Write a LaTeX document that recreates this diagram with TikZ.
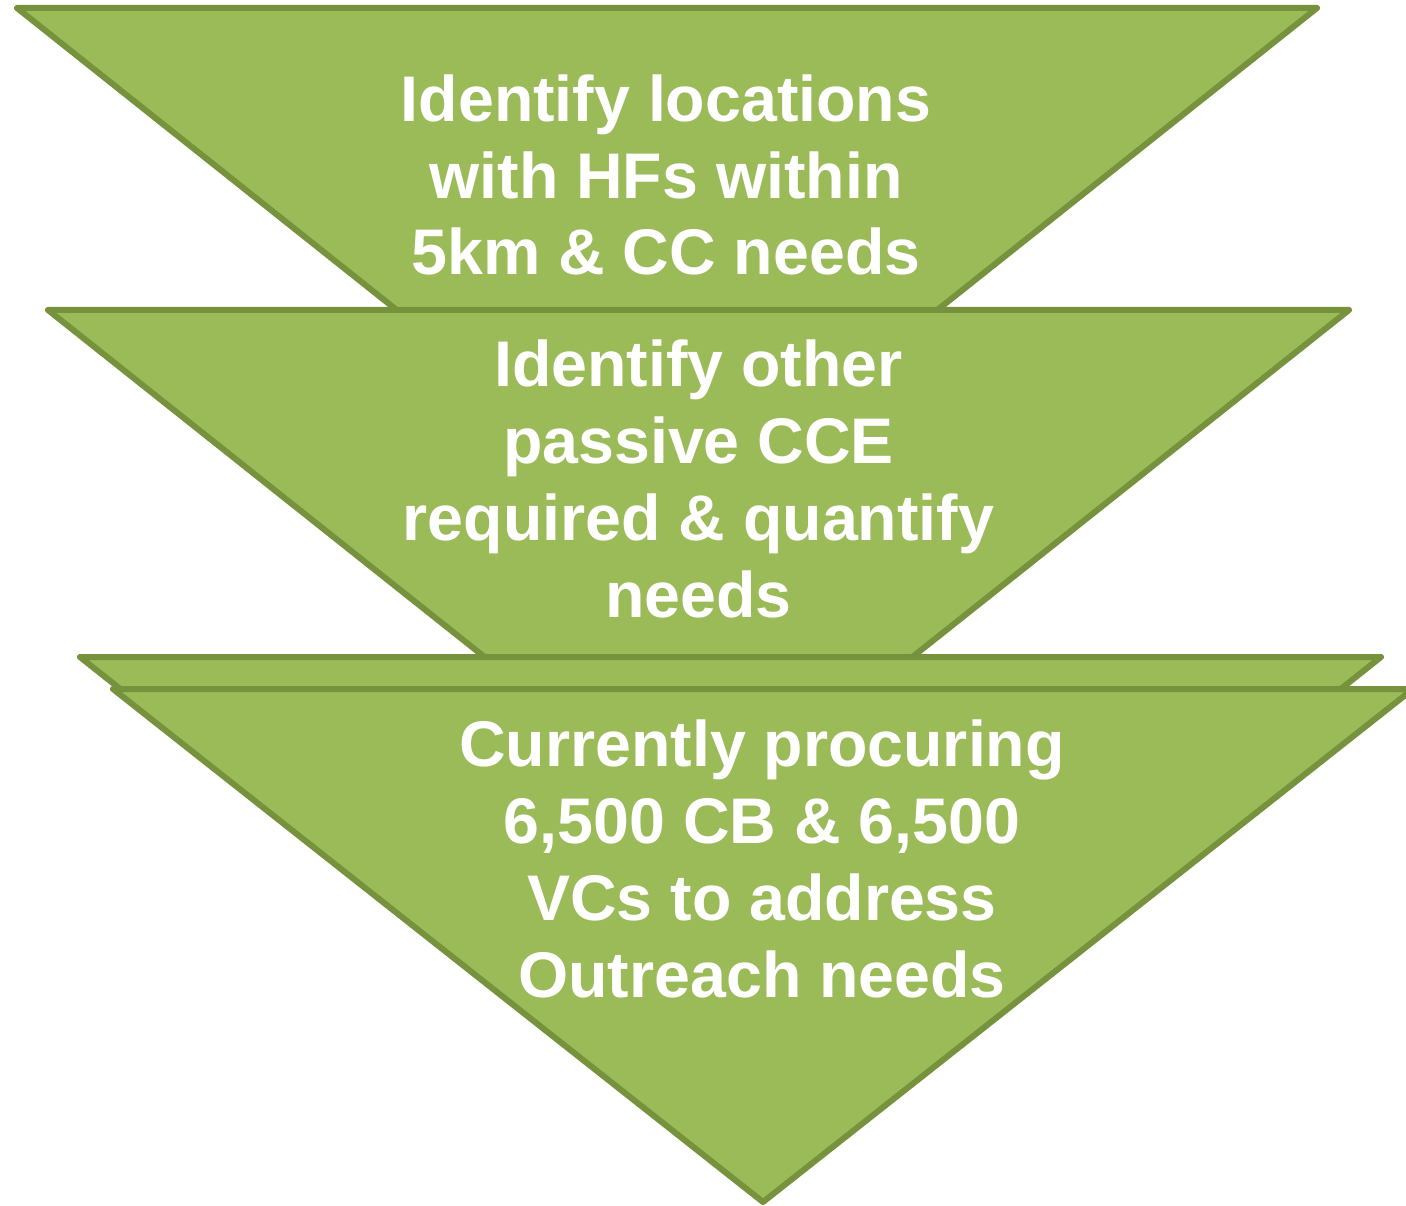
\documentclass[tikz,border=0pt]{standalone}
\usepackage{fontspec}
\setmainfont{Liberation Sans}
\definecolor{trifill}{HTML}{9BBB59}
\definecolor{tristroke}{HTML}{76923C}
\tikzset{
  tri/.style={fill=trifill, draw=tristroke, line width=6pt, line join=round},
  lbl/.style={text=white, font=\fontsize{64.5}{76.8}\selectfont\bfseries, align=center, anchor=base, inner sep=0pt}
}
\begin{document}
\begin{tikzpicture}[x=1pt, y=-1pt]
\useasboundingbox (0,0) rectangle (1406,1206);
\clip (0,0) rectangle (1406,1206);
% triangle 1
\coordinate (a1) at (17,8); \coordinate (b1) at (1317,8); \coordinate (c1) at (667,525);
\draw[tri] (a1) -- (b1) -- (c1) -- cycle;
% triangle 2
\coordinate (a2) at (48,310); \coordinate (b2) at (1349,310); \coordinate (c2) at (698.5,827);
\draw[tri] (a2) -- (b2) -- (c2) -- cycle;
% triangle 3
\coordinate (a3) at (80,657); \coordinate (b3) at (1381,657); \coordinate (c3) at (730.5,1174);
\draw[tri] (a3) -- (b3) -- (c3) -- cycle;
% triangle 4
\coordinate (a4) at (113,689); \coordinate (b4) at (1413,689); \coordinate (c4) at (763,1202);
\draw[tri] (a4) -- (b4) -- (c4) -- cycle;
% labels (base anchor = baseline of last line)
\node[lbl] (t1) at (666,275) {Identify locations\\with HFs within\\5km \& CC needs};
\node[lbl] (t2) at (698.5,617) {Identify other\\passive CCE\\required \& quantify\\needs};
\node[lbl] (t4) at (762,997) {Currently procuring\\6,500 CB \& 6,500\\VCs to address\\Outreach needs};
\end{tikzpicture}
\end{document}
